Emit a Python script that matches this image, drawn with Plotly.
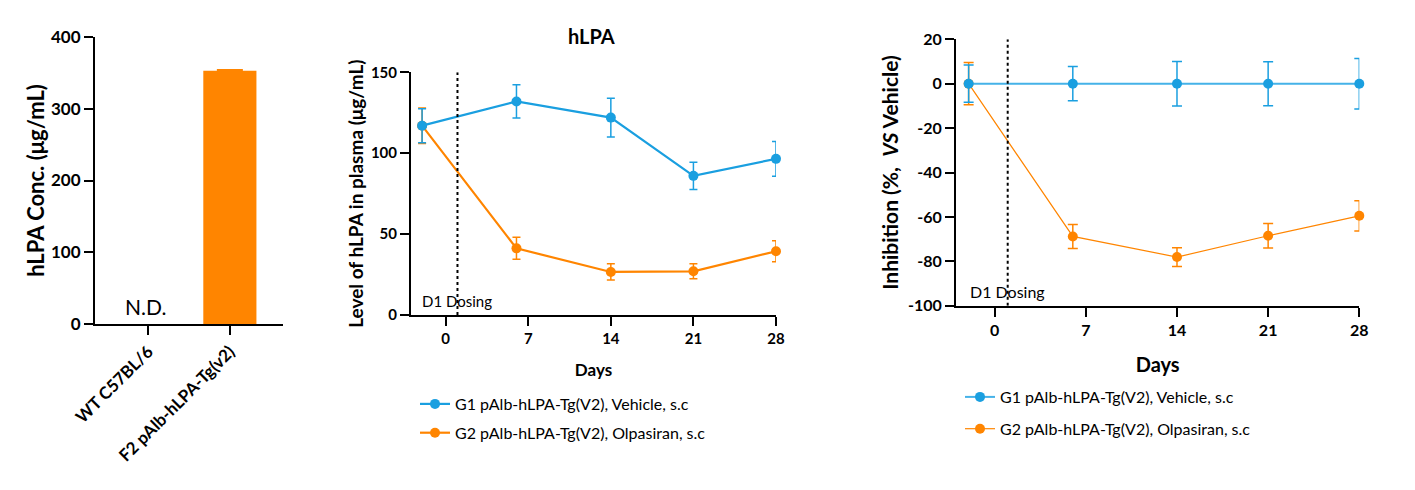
import plotly.graph_objects as go

W, H = 1415, 490
def px(x): return x / W
def py(y): return 1 - y / H

# ---------------- data ----------------
bar_categories = ["WT C57BL/6", "F2 pAlb-hLPA-Tg(v2)"]
bar_values = [None, 353]          # WT: not detected
bar_err = [0, 1]

days = [-2, 6, 14, 21, 28]
g1_level = [117, 132, 122, 86, 96.5]
g1_level_err = [10.5, 10.3, 12, 8.4, 10.8]
g2_level = [117, 41.2, 26.6, 27, 39.4]
g2_level_err = [11, 6.8, 5, 4.6, 6.5]

g1_inhib = [0, 0, 0, 0, 0]
g1_inhib_err = [8.4, 7.7, 10, 9.9, 11.4]
g2_inhib = [0, -68.8, -78.1, -68.5, -59.5]
g2_inhib_err = [9.5, 5.4, 4.2, 5.5, 6.8]

day_ticks = [0, 7, 14, 21, 28]
level_ticks = [0, 50, 100, 150]
conc_ticks = [0, 100, 200, 300, 400]
inhib_ticks = [20, 0, -20, -40, -60, -80, -100]
inhib_tick_labels = ["20", "0", "-20", "-40", "-60", "-80", "-100"]
dosing_day = 1

g1_name = "G1 pAlb-hLPA-Tg(V2), Vehicle, s.c"
g2_name = "G2 pAlb-hLPA-Tg(V2), Olpasiran, s.c"

BLUE = "#1A9FE0"
ORANGE = "#FF8500"
FONT = "Lato"

fig = go.Figure()

# ---------------- panel 1: bar ----------------
fig.add_trace(go.Bar(
    x=bar_categories, y=bar_values, marker_color=ORANGE, marker_line_width=0,
    width=0.65, xaxis="x", yaxis="y", showlegend=False,
    error_y=dict(type="data", array=bar_err, color=ORANGE, thickness=2, width=13),
))

# ---------------- panel 2: hLPA level ----------------
fig.add_trace(go.Scatter(
    x=days, y=g2_level, mode="lines+markers", name=g2_name, legendrank=2,
    line=dict(color=ORANGE, width=2.2), marker=dict(size=10, color=ORANGE),
    error_y=dict(type="data", array=g2_level_err, color=ORANGE, thickness=1.5, width=4),
    xaxis="x2", yaxis="y2", legend="legend", legendgroup="a2", cliponaxis=False,
))
fig.add_trace(go.Scatter(
    x=days, y=g1_level, mode="lines+markers", name=g1_name, legendrank=1,
    line=dict(color=BLUE, width=2.2), marker=dict(size=10, color=BLUE),
    error_y=dict(type="data", array=g1_level_err, color=BLUE, thickness=1.5, width=4),
    xaxis="x2", yaxis="y2", legend="legend", legendgroup="a1", cliponaxis=False,
))

# ---------------- panel 3: inhibition ----------------
fig.add_trace(go.Scatter(
    x=days, y=g2_inhib, mode="lines+markers", name=g2_name, legendrank=2,
    line=dict(color=ORANGE, width=1.2), marker=dict(size=10, color=ORANGE),
    error_y=dict(type="data", array=g2_inhib_err, color=ORANGE, thickness=1.5, width=5),
    xaxis="x3", yaxis="y3", legend="legend2", legendgroup="b2", cliponaxis=False,
))
fig.add_trace(go.Scatter(
    x=days, y=g1_inhib, mode="lines+markers", name=g1_name, legendrank=1,
    line=dict(color="#45B2E8", width=2), marker=dict(size=10, color=BLUE),
    error_y=dict(type="data", array=g1_inhib_err, color=BLUE, thickness=1.5, width=5),
    xaxis="x3", yaxis="y3", legend="legend2", legendgroup="b1", cliponaxis=False,
))

axis_common = dict(showline=True, linecolor="black", linewidth=2, ticks="outside",
                   ticklen=9, tickwidth=2, tickcolor="black", showgrid=False,
                   zeroline=False, automargin=False)

fig.update_layout(
    width=W, height=H, margin=dict(l=0, r=0, t=0, b=0),
    paper_bgcolor="white", plot_bgcolor="white",
    font=dict(family=FONT, color="black"),
    # panel 1
    xaxis=dict(domain=[px(95), px(283)], anchor="y", type="category",
               range=[-0.65, 1.65], tickangle=-45,
               tickfont=dict(size=17, weight="bold"), **axis_common),
    yaxis=dict(domain=[py(324), py(37)], anchor="x", range=[0, 400],
               tickvals=conc_ticks,
               tickfont=dict(size=17, weight="bold"),
               title=dict(text="hLPA Conc. (μg/mL)", font=dict(size=22, weight="bold"), standoff=0),
               **axis_common),
    # panel 2
    xaxis2=dict(domain=[px(411), px(776)], anchor="y2", range=[-2.94, 28],
                tickvals=day_ticks, tickfont=dict(size=15, weight="bold"),
                title=dict(text="Days", font=dict(size=17, weight="bold"), standoff=18),
                **axis_common),
    yaxis2=dict(domain=[py(315), py(72.3)], anchor="x2", range=[0, 150],
                tickvals=level_ticks, tickfont=dict(size=15, weight="bold"),
                title=dict(text="Level of hLPA in plasma (μg/mL)", font=dict(size=19, weight="bold"), standoff=2),
                **axis_common),
    # panel 3
    xaxis3=dict(domain=[px(956), px(1359.3)], anchor="y3", range=[-2.97, 28],
                tickvals=day_ticks, tickfont=dict(size=16, weight="bold"),
                title=dict(text="Days", font=dict(size=20, weight="bold"), standoff=20),
                **axis_common),
    yaxis3=dict(domain=[py(305.7), py(39.3)], anchor="x3", range=[-100, 20],
                tickvals=inhib_ticks, ticktext=inhib_tick_labels,
                tickfont=dict(size=16, weight="bold"),
                title=dict(text="Inhibition (%,  <i>VS</i> Vehicle)", font=dict(size=21, weight="bold"), standoff=4),
                **axis_common),
    legend=dict(x=px(415), y=py(387), xanchor="left", yanchor="top",
                font=dict(size=16), traceorder="grouped", tracegroupgap=5,
                bgcolor="rgba(0,0,0,0)"),
    legend2=dict(x=px(960), y=py(380), xanchor="left", yanchor="top",
                 font=dict(size=16), traceorder="grouped", tracegroupgap=8,
                 bgcolor="rgba(0,0,0,0)"),
)

# dosing lines
fig.add_shape(type="line", xref="x2", yref="y2", x0=dosing_day, x1=dosing_day, y0=0, y1=150,
              line=dict(color="black", width=2, dash="dot"))
fig.add_shape(type="line", xref="x3", yref="y3", x0=dosing_day, x1=dosing_day, y0=-100, y1=20,
              line=dict(color="black", width=2, dash="dot"))

fig.add_annotation(text="D1 Dosing", xref="x2", yref="y2", x=dosing_day, y=0, yshift=3,
                   xanchor="center", yanchor="bottom", showarrow=False, font=dict(size=15))
fig.add_annotation(text="D1 Dosing", xref="x3", yref="y3", x=dosing_day, y=-100, yshift=3,
                   xanchor="center", yanchor="bottom", showarrow=False, font=dict(size=16))
fig.add_annotation(text="N.D.", xref="x", yref="y", x=bar_categories[0], y=0, yshift=3, xshift=-3,
                   xanchor="center", yanchor="bottom", showarrow=False, font=dict(size=21))
fig.add_annotation(text="<b>hLPA</b>", xref="paper", yref="paper", x=px(591), y=py(36),
                   xanchor="center", yanchor="middle", showarrow=False, font=dict(size=20))

fig.write_html("out.html")
